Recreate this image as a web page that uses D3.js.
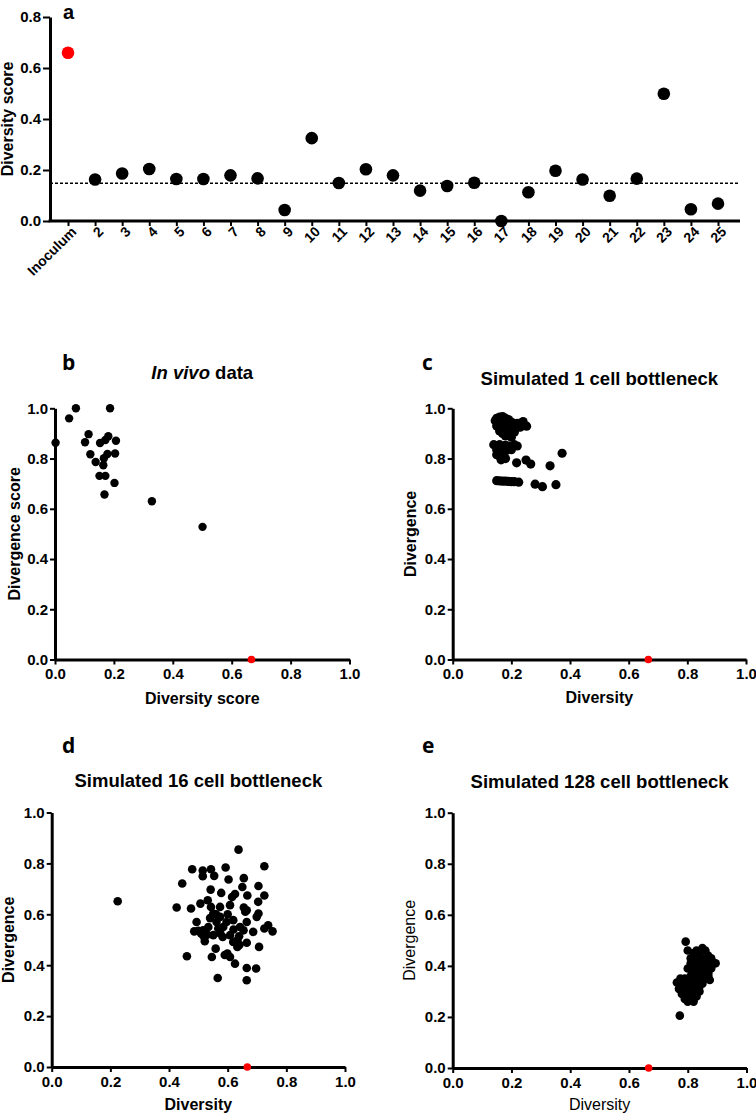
<!DOCTYPE html>
<html><head><meta charset="utf-8">
<script src="https://cdn.jsdelivr.net/npm/d3@7"></script>
<style>
html,body{margin:0;padding:0;background:#fff;}
svg{display:block;}
text{font-family:"Liberation Sans",Arial,sans-serif;}
.bold{font-weight:bold;}
.letter{font-family:"Open Sans","Liberation Sans",sans-serif;font-weight:bold;font-size:21px;}
</style></head>
<body>
<script>
// ---------- DATA ----------
const categoriesA = ["Inoculum","2","3","4","5","6","7","8","9","10","11","12","13","14","15","16","17","18","19","20","21","22","23","24","25"];
const diversityA = [0.66,0.163,0.186,0.204,0.165,0.165,0.179,0.167,0.043,0.325,0.149,0.203,0.179,0.119,0.137,0.150,0.0,0.113,0.197,0.163,0.099,0.166,0.499,0.046,0.068];
const thresholdA = 0.148;
const yTicksA = [0,0.2,0.4,0.6,0.8];
const scatterTicks = [0,0.2,0.4,0.6,0.8,1.0];
const inoculum = [0.667, 0];

const inVivo = [[0.002,0.863],[0.048,0.960],[0.071,1.0],[0.187,1.0],[0.114,0.897],[0.102,0.865],[0.120,0.817],[0.138,0.786],[0.153,0.862],[0.171,0.874],[0.181,0.889],[0.207,0.871],[0.204,0.820],[0.178,0.818],[0.166,0.801],[0.164,0.773],[0.151,0.731],[0.171,0.731],[0.202,0.703],[0.168,0.657],[0.329,0.630],[0.501,0.528]];

const sim1 = [[0.15,0.96],[0.16,0.965],[0.17,0.967],[0.18,0.96],[0.19,0.955],[0.145,0.95],[0.155,0.945],[0.165,0.95],[0.175,0.945],[0.185,0.94],[0.2,0.945],[0.15,0.93],[0.16,0.925],[0.17,0.93],[0.18,0.92],[0.19,0.925],[0.2,0.93],[0.21,0.935],[0.22,0.94],[0.16,0.91],[0.17,0.9],[0.18,0.905],[0.19,0.9],[0.2,0.91],[0.21,0.905],[0.215,0.92],[0.18,0.89],[0.2,0.885],[0.24,0.947],[0.252,0.929],[0.23,0.925],
[0.14,0.855],[0.15,0.852],[0.16,0.855],[0.17,0.85],[0.18,0.853],[0.19,0.85],[0.2,0.845],[0.21,0.855],[0.22,0.85],[0.15,0.835],[0.165,0.835],[0.18,0.83],[0.15,0.815],[0.16,0.81],[0.17,0.82],[0.18,0.8],[0.165,0.795],[0.2,0.835],
[0.218,0.783],[0.25,0.794],[0.266,0.778],[0.332,0.771],[0.373,0.821],
[0.15,0.712],[0.16,0.711],[0.17,0.71],[0.18,0.71],[0.19,0.709],[0.2,0.708],[0.21,0.708],[0.225,0.706],[0.281,0.698],[0.306,0.688],[0.352,0.696]];

const sim16 = [[0.225,0.651],[0.637,0.854],[0.725,0.789],[0.479,0.777],[0.515,0.772],[0.543,0.777],[0.593,0.784],[0.515,0.750],[0.554,0.751],[0.445,0.721],[0.603,0.737],[0.655,0.742],[0.705,0.711],[0.650,0.707],[0.542,0.697],[0.578,0.684],[0.667,0.674],[0.725,0.674],[0.615,0.668],[0.625,0.68],
[0.426,0.627],[0.475,0.623],[0.507,0.642],[0.532,0.655],[0.543,0.629],[0.574,0.629],[0.608,0.636],[0.655,0.627],[0.665,0.616],[0.704,0.649],
[0.494,0.570],[0.516,0.537],[0.486,0.533],[0.510,0.524],[0.522,0.494],[0.559,0.465],[0.546,0.432],[0.461,0.435],[0.599,0.446],[0.608,0.432],[0.625,0.406],[0.665,0.389],[0.697,0.387],[0.566,0.350],[0.665,0.341],[0.707,0.472],[0.665,0.488],[0.633,0.472],[0.633,0.498],[0.687,0.531],[0.753,0.533],[0.738,0.557],[0.725,0.544],[0.699,0.590],[0.705,0.603],[0.665,0.570],[0.642,0.550],[0.619,0.577],[0.596,0.570],[0.574,0.590],[0.551,0.603],[0.562,0.570],[0.583,0.511],[0.608,0.518],[0.619,0.491],[0.639,0.514],[0.654,0.537],[0.585,0.550],[0.534,0.550],[0.551,0.518],[0.568,0.544],[0.530,0.520],[0.500,0.535],[0.540,0.585],[0.600,0.600],[0.620,0.540],[0.660,0.610],[0.590,0.440],[0.640,0.480],[0.560,0.600],[0.520,0.510],[0.575,0.525]];

const sim128 = [[0.793,0.495],[0.773,0.205],[0.763,0.335],
[0.80,0.46],[0.82,0.45],[0.83,0.46],[0.85,0.47],[0.86,0.46],[0.87,0.44],[0.84,0.44],[0.81,0.43],[0.83,0.42],[0.85,0.43],[0.86,0.42],[0.88,0.43],[0.89,0.41],[0.87,0.40],[0.85,0.40],[0.83,0.40],[0.81,0.41],[0.80,0.39],[0.82,0.38],[0.84,0.38],[0.86,0.38],[0.88,0.39],[0.87,0.36],[0.85,0.36],[0.83,0.36],[0.81,0.36],[0.79,0.35],[0.78,0.34],[0.80,0.34],[0.82,0.34],[0.84,0.34],[0.86,0.35],[0.87,0.37],
[0.78,0.32],[0.80,0.32],[0.82,0.32],[0.84,0.32],[0.79,0.30],[0.81,0.30],[0.83,0.31],[0.78,0.29],[0.80,0.28],[0.82,0.28],[0.79,0.27],[0.81,0.27],[0.83,0.28],[0.80,0.26],[0.82,0.26],[0.84,0.30],[0.85,0.33],[0.77,0.31],[0.835,0.45],[0.845,0.41],[0.825,0.39],[0.855,0.385],[0.815,0.37],[0.775,0.35],[0.895,0.41],[0.875,0.345]];

// ---------- DRAW ----------
const svg = d3.select("body").append("svg").attr("width",756).attr("height",1118);

function styleAxis(g){
  g.select(".domain").attr("stroke","#000").attr("stroke-width",3);
  g.selectAll(".tick line").attr("stroke","#000").attr("stroke-width",2);
  g.selectAll(".tick text").attr("fill","#000").attr("font-weight","bold").attr("font-size","15px")
    .attr("font-family","'Liberation Sans',Arial,sans-serif");
}

// Panel a
{
  const x = d3.scalePoint().domain(categoriesA).range([68,718]);
  const y = d3.scaleLinear().domain([0,0.8]).range([221,17]);
  const g = svg.append("g");
  const ya = g.append("g").attr("transform","translate(50,0)")
    .call(d3.axisLeft(y).tickValues(yTicksA).tickFormat(d3.format(".1f")).tickSize(7).tickSizeOuter(0).tickPadding(2));
  styleAxis(ya);
  const xa = g.append("g").attr("transform","translate(0,221)")
    .call(d3.axisBottom(x).tickSize(5).tickSizeOuter(0));
  xa.select(".domain").remove();
  styleAxis(xa);
  xa.selectAll(".tick text").attr("font-size","14px").attr("text-anchor","end")
    .attr("x",-2).attr("y",6).attr("dy","0.6em").attr("transform","rotate(-45)");
  g.append("line").attr("x1",48.5).attr("x2",740).attr("y1",221).attr("y2",221).attr("stroke","#000").attr("stroke-width",3);
  g.append("line").attr("x1",50).attr("x2",738).attr("y1",y(thresholdA)).attr("y2",y(thresholdA))
    .attr("stroke","#000").attr("stroke-width",1.3).attr("stroke-dasharray","3,2");
  g.selectAll("circle").data(diversityA).join("circle")
    .attr("cx",(d,i)=>x(categoriesA[i])).attr("cy",d=>y(d)).attr("r",6.3)
    .attr("fill",(d,i)=>i===0?"#ff0000":"#000");
  g.append("text").attr("font-family","'Liberation Sans',Arial,sans-serif").attr("font-weight","bold")
    .attr("font-size","20px").attr("x",63).attr("y",18.5).text("a");
  g.append("text").attr("class","bold").attr("font-size","16px").attr("text-anchor","middle")
    .attr("transform","translate(13,119) rotate(-90)").text("Diversity score");
}

function scatter(opt){
  const x = d3.scaleLinear().domain([0,1]).range([opt.x0,opt.x1]);
  const y = d3.scaleLinear().domain([0,1]).range([opt.y0,opt.y1]);
  const g = svg.append("g");
  const xa = g.append("g").attr("transform",`translate(0,${opt.y0})`)
    .call(d3.axisBottom(x).tickValues(scatterTicks).tickFormat(d3.format(".1f")).tickSize(5).tickSizeOuter(0).tickPadding(4));
  styleAxis(xa);
  const ya = g.append("g").attr("transform",`translate(${opt.x0},0)`)
    .call(d3.axisLeft(y).tickValues(scatterTicks).tickFormat(d3.format(".1f")).tickSize(5).tickSizeOuter(0).tickPadding(2));
  styleAxis(ya);
  g.selectAll("circle.pt").data(opt.data).join("circle").attr("class","pt")
    .attr("cx",d=>x(d[0])).attr("cy",d=>y(d[1])).attr("r",opt.r).attr("fill","#000");
  g.append("circle").attr("cx",x(inoculum[0])).attr("cy",y(inoculum[1])).attr("r",3.8).attr("fill","#ff0000");
  g.append("text").attr("class","letter").attr("x",opt.lx).attr("y",opt.ly).text(opt.letter);
  const cx = (opt.x0+opt.x1)/2, cy=(opt.y0+opt.y1)/2;
  const t = g.append("text").attr("class","bold").attr("font-size","18.5px").attr("text-anchor","middle")
    .attr("x",cx).attr("y",opt.ty);
  if(opt.italic){ t.append("tspan").attr("font-style","italic").text(opt.italic); t.append("tspan").text(opt.title); }
  else t.text(opt.title);
  g.append("text").attr("font-weight",opt.normal?"normal":"bold").attr("font-size","16px").attr("text-anchor","middle")
    .attr("x",cx).attr("y",opt.xty).text(opt.xlabel);
  g.append("text").attr("font-weight",opt.normal?"normal":"bold").attr("font-size","16px").attr("text-anchor","middle")
    .attr("transform",`translate(${opt.ytx},${cy}) rotate(-90)`).text(opt.ylabel);
}

scatter({x0:55,x1:349.5,y0:659.5,y1:408.3,data:inVivo,r:4.2,letter:"b",lx:62,ly:370,italic:"In vivo",title:" data",ty:379,xlabel:"Diversity score",xty:704,ylabel:"Divergence score",ytx:20});
scatter({x0:452.7,x1:746,y0:659.5,y1:408.3,data:sim1,r:4.6,letter:"c",lx:422,ly:370,title:"Simulated 1 cell bottleneck",ty:385,xlabel:"Diversity",xty:703,ylabel:"Divergence",ytx:416});
scatter({x0:51.7,x1:345,y0:1067,y1:812.5,data:sim16,r:4.3,letter:"d",lx:62,ly:753,title:"Simulated 16 cell bottleneck",ty:787,xlabel:"Diversity",xty:1110,ylabel:"Divergence",ytx:14});
scatter({x0:452.7,x1:746.5,y0:1068,y1:812.7,data:sim128,r:4.3,letter:"e",lx:422,ly:753,title:"Simulated 128 cell bottleneck",ty:788,xlabel:"Diversity",xty:1110,ylabel:"Divergence",ytx:415,normal:true});
</script>
</body></html>
